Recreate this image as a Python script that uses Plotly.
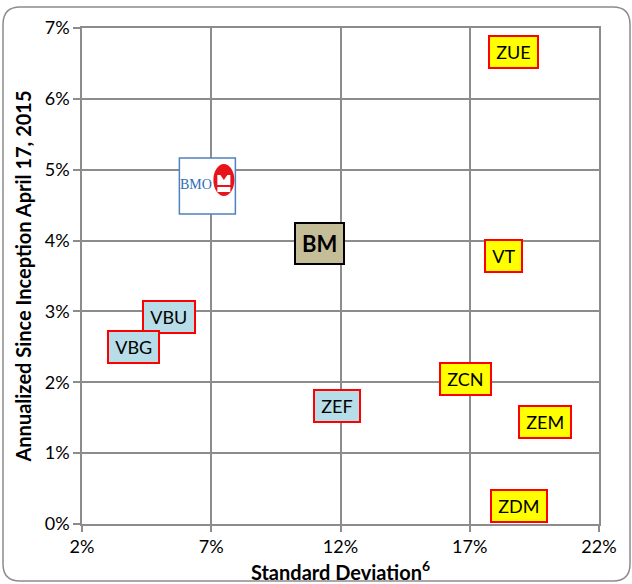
import plotly.graph_objects as go

# Data
yellow_names = ["ZUE", "VT", "ZCN", "ZEM", "ZDM"]
yellow_sd = [18.7, 18.3, 16.85, 19.9, 18.9]
yellow_ret = [6.66, 3.78, 2.05, 1.44, 0.25]

blue_names = ["ZEF", "VBU", "VBG"]
blue_sd = [11.85, 5.35, 4.0]
blue_ret = [1.66, 2.92, 2.50]

bm_name = ["BM"]
bm_sd = [11.2]
bm_ret = [3.96]

bmo_sd = [6.85]
bmo_ret = [4.77]

x_ticks = [2, 7, 12, 17, 22]
x_ticktext = ["2%", "7%", "12%", "17%", "22%"]
y_ticks = [0, 1, 2, 3, 4, 5, 6, 7]
y_ticktext = ["0%", "1%", "2%", "3%", "4%", "5%", "6%", "7%"]

FONT = "Lato, 'Open Sans', sans-serif"
TS = "\u2009"

fig = go.Figure()
fig.add_trace(go.Scatter(x=yellow_sd + blue_sd + bm_sd + bmo_sd,
                         y=yellow_ret + blue_ret + bm_ret + bmo_ret,
                         mode="markers", marker=dict(opacity=0), hoverinfo="skip",
                         showlegend=False))

annotations = []
for n, x, y in zip(yellow_names, yellow_sd, yellow_ret):
    annotations.append(dict(x=x, y=y, text=TS + n + TS, showarrow=False,
                            font=dict(size=18, color="black", family=FONT),
                            bgcolor="#FFFF00", bordercolor="#FF0000", borderwidth=2,
                            borderpad=4))
for n, x, y in zip(blue_names, blue_sd, blue_ret):
    annotations.append(dict(x=x, y=y, text=TS + n + TS, showarrow=False,
                            font=dict(size=18, color="black", family=FONT),
                            bgcolor="#B7DDE8", bordercolor="#FF0000", borderwidth=2,
                            borderpad=4))
for n, x, y in zip(bm_name, bm_sd, bm_ret):
    annotations.append(dict(x=x, y=y, text="<b>" + n + "</b>", showarrow=False,
                            font=dict(size=22, color="black", family=FONT),
                            bgcolor="#C4BD97", bordercolor="#000000", borderwidth=2,
                            borderpad=6))

shapes = []
for x, y in zip(bmo_sd, bmo_ret):
    shapes.append(dict(type="rect", xref="x", yref="y", xsizemode="pixel",
                       ysizemode="pixel", xanchor=x, yanchor=y,
                       x0=-28, x1=28, y0=-28, y1=28,
                       fillcolor="white", line=dict(color="#4F81BD", width=1.5),
                       layer="above"))
    shapes.append(dict(type="circle", xref="x", yref="y", xsizemode="pixel",
                       ysizemode="pixel", xanchor=x, yanchor=y,
                       x0=6, x1=27, y0=-10, y1=22,
                       fillcolor="#E8141B", line=dict(width=0), layer="above"))
    shapes.append(dict(type="path", xref="x", yref="y", xsizemode="pixel",
                       ysizemode="pixel", xanchor=x, yanchor=y,
                       path=("M 10,-6 L 23,-6 L 23,-1 L 10,-1 Z "
                             "M 10,1 L 10,11 L 13,11 L 16.5,6 L 20,11 L 23,11 L 23,1 Z"),
                       fillcolor="white", line=dict(width=0), layer="above"))
    annotations.append(dict(x=x, y=y, text="BMO", showarrow=False, xshift=-11, yshift=2,
                            font=dict(size=14, color="#2E6EB5",
                                      family="'Liberation Serif', 'DejaVu Serif', serif")))

# rounded outer border (paper coordinates)
L, R, T, B = -0.1528, 1.0600, 1.0423, -0.1149
rx, ry = 0.033, 0.035
path = (f"M {L+rx},{T} L {R-rx},{T} Q {R},{T} {R},{T-ry} L {R},{B+ry} Q {R},{B} {R-rx},{B} "
        f"L {L+rx},{B} Q {L},{B} {L},{B+ry} L {L},{T-ry} Q {L},{T} {L+rx},{T} Z")
shapes.append(dict(type="path", xref="paper", yref="paper", path=path,
                   line=dict(color="#8C8C8C", width=1.5), layer="below"))

fig.update_layout(
    width=632, height=584,
    margin=dict(l=82, r=33, t=28, b=60),
    paper_bgcolor="white", plot_bgcolor="white",
    annotations=annotations, shapes=shapes,
    font=dict(family=FONT, color="black"),
    xaxis=dict(range=[2, 22], tickvals=x_ticks, ticktext=x_ticktext,
               showgrid=True, gridcolor="#8C8C8C", gridwidth=1.5,
               showline=True, linecolor="#8C8C8C", linewidth=1.5, mirror=True,
               ticks="outside", ticklen=6, tickcolor="#8C8C8C", tickwidth=1.5,
               tickfont=dict(size=18, family=FONT), zeroline=False,
               title=dict(text="<b>Standard Deviation<sup>6</sup></b>",
                          font=dict(size=20, family=FONT), standoff=0)),
    yaxis=dict(range=[0, 7], tickvals=y_ticks, ticktext=y_ticktext,
               showgrid=True, gridcolor="#8C8C8C", gridwidth=1.5,
               showline=True, linecolor="#8C8C8C", linewidth=1.5, mirror=True,
               ticks="outside", ticklen=7, tickcolor="#8C8C8C", tickwidth=1.5,
               tickfont=dict(size=18, family=FONT), zeroline=False,
               title=dict(text="<b>Annualized Since Inception April 17, 2015</b>",
                          font=dict(size=20, family=FONT), standoff=8)),
)

fig.write_html("out.html", config={"displayModeBar": False},
               post_script="document.body.style.margin='0';")
